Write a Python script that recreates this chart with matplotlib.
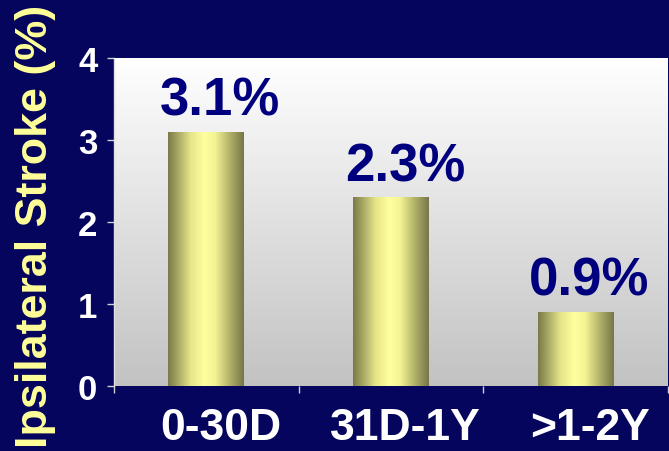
import numpy as np
import matplotlib
matplotlib.use("Agg")
import matplotlib.pyplot as plt
import matplotlib.transforms as mtransforms
from matplotlib.colors import LinearSegmentedColormap

plt.rcParams.update({"font.family": ["Liberation Sans", "DejaVu Sans"],
                     "font.weight": "bold"})

# ---- data --------------------------------------------------------------------
periods = ["0-30D", "31D-1Y", ">1-2Y"]
stroke_rate = [3.1, 2.3, 0.9]
y_ticks = [0, 1, 2, 3, 4]
y_label = "Ipsilateral Stroke (%)"

BG = "#05055E"
NAVY = "#00007F"
YELLOW = "#FFFF99"

fig = plt.figure(figsize=(6.69, 4.52), dpi=100, facecolor=BG)
ax = fig.add_axes([114 / 669, 65 / 452, 554 / 669, 328 / 452])

x = np.arange(len(periods))

# grey-to-white backdrop of the plotting area
backdrop = np.linspace(0, 1, 256).reshape(-1, 1)
back_cmap = LinearSegmentedColormap.from_list("back", ["#C2C2C2", "#FFFFFF"])
ax.imshow(backdrop, cmap=back_cmap, aspect="auto", extent=(0, 1, 1, 0),
          transform=ax.transAxes, zorder=0)

# cylinder-shaded bars
bars = ax.bar(x, stroke_rate, width=0.41, color="none", edgecolor="none", zorder=2)
cyl_cmap = LinearSegmentedColormap.from_list(
    "cyl", [(0.0, "#7A7A48"), (0.12, "#A4A462"), (0.3, "#E6E68A"),
            (0.48, "#FFFF9E"), (0.62, "#F4F494"), (0.82, "#B0B068"),
            (1.0, "#76764A")])
shade = np.linspace(0, 1, 256).reshape(1, -1)
for bar in bars:
    x0, w, h = bar.get_x(), bar.get_width(), bar.get_height()
    img = ax.imshow(shade, cmap=cyl_cmap, aspect="auto",
                    extent=(x0, x0 + w, 0, h), zorder=2)
    img.set_clip_path(bar)

ax.set_xlim(-0.5, len(periods) - 0.5)
ax.set_ylim(0, 4)

# value labels above bars
for xi, v in zip(x, stroke_rate):
    ax.annotate(f"{v}%", (xi, v), xytext=(10, 12.5), textcoords="offset points",
                ha="center", va="baseline", fontsize=38, fontweight="bold",
                color=NAVY, zorder=3)

# axes styling
for side in ["top", "right", "bottom"]:
    ax.spines[side].set_visible(False)
ax.spines["left"].set_color("#E0E0E0")
ax.spines["left"].set_linewidth(1)

ax.set_yticks(y_ticks)
ax.tick_params(axis="y", colors="#D0D0D0", length=5, width=1, pad=7,
               labelsize=25, labelcolor="white")

ax.set_xticks(x)
ax.set_xticklabels(periods)
ax.set_xticks(np.arange(-0.5, len(periods)), minor=True)
ax.tick_params(axis="x", which="major", length=0, pad=15, labelsize=32,
               labelcolor="white")
ax.tick_params(axis="x", which="minor", length=5, width=1, colors="#D0D0D0")
shift = mtransforms.ScaledTranslation(14 / 100, 0, fig.dpi_scale_trans)
for lbl in ax.get_xticklabels():
    lbl.set_transform(lbl.get_transform() + shift)
for lbl in ax.get_xticklabels() + ax.get_yticklabels():
    lbl.set_fontweight("bold")

fig.text(36 / 669, 0.5, y_label, rotation=90, ha="center", va="center",
         fontsize=32.3, fontweight="bold", color=YELLOW)

fig.savefig("out.png", dpi=100, facecolor=BG)
